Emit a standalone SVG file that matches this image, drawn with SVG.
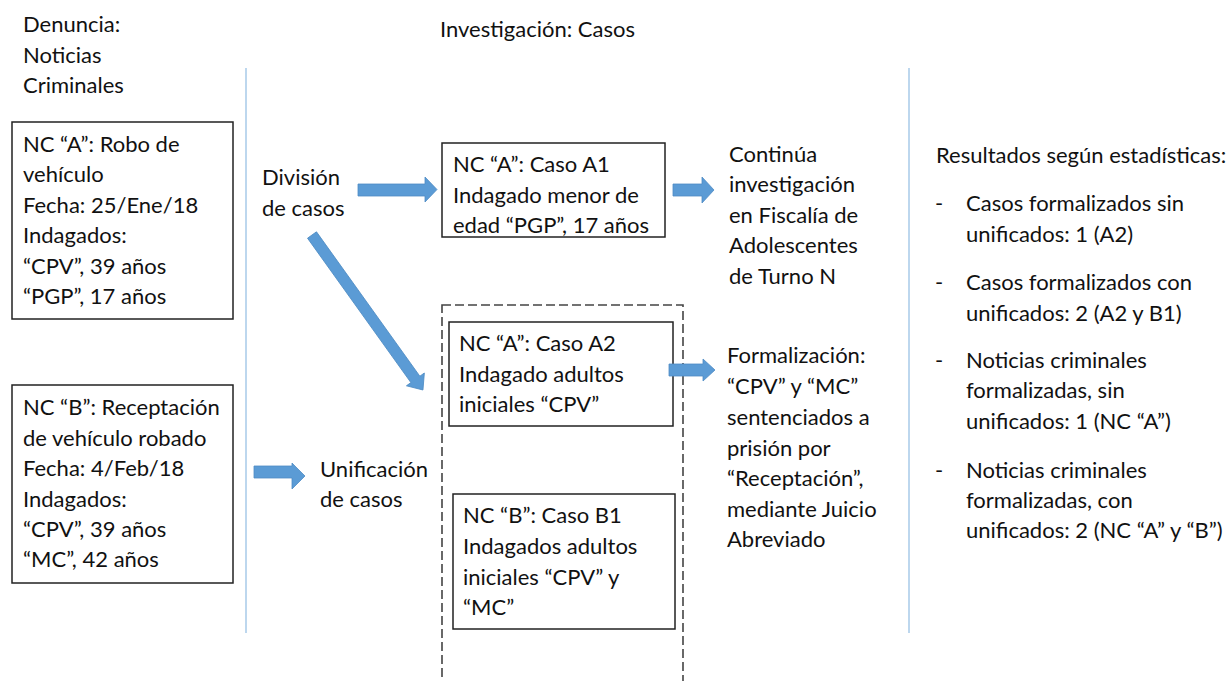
<svg xmlns="http://www.w3.org/2000/svg" width="1232" height="681" viewBox="0 0 1232 681">
<style>
text{font-family:"Lato","Liberation Sans",sans-serif;font-size:22px;fill:#111}
.box{fill:#fff;stroke:#222;stroke-width:1.5}
.dash{fill:none;stroke:#444;stroke-width:1.6;stroke-dasharray:9 4}
.sep{stroke:#bdd7ee;stroke-width:2}
.arrow{fill:#5b9bd5;stroke:#4f8cc4;stroke-width:0.8}
</style>
<rect width="1232" height="681" fill="#fff"/>
<g id="separators">
<line class="sep" x1="246" y1="68" x2="246" y2="633"/>
<line class="sep" x1="909" y1="68" x2="909" y2="633"/>
</g>
<g id="header-denuncia">
<text x="23" y="32">Denuncia:</text>
<text x="23" y="63">Noticias</text>
<text x="23" y="93">Criminales</text>
</g>
<g id="header-investigacion">
<text x="440" y="37">Investigación: Casos</text>
</g>
<g id="nc-a">
<rect class="box" x="12" y="122" width="221" height="197"/>
<text x="23" y="152">NC “A”: Robo de</text>
<text x="23" y="182">vehículo</text>
<text x="23" y="213">Fecha: 25/Ene/18</text>
<text x="23" y="243">Indagados:</text>
<text x="23" y="274">“CPV”, 39 años</text>
<text x="23" y="304">“PGP”, 17 años</text>
</g>
<g id="nc-b">
<rect class="box" x="12" y="385" width="221" height="198"/>
<text x="23" y="415">NC “B”: Receptación</text>
<text x="23" y="446">de vehículo robado</text>
<text x="23" y="476">Fecha: 4/Feb/18</text>
<text x="23" y="507">Indagados:</text>
<text x="23" y="537">“CPV”, 39 años</text>
<text x="23" y="567">“MC”, 42 años</text>
</g>
<g id="division">
<text x="262" y="185">División</text>
<text x="262" y="216">de casos</text>
</g>
<g id="unificacion">
<text x="320" y="477">Unificación</text>
<text x="320" y="507">de casos</text>
</g>
<g id="caso-a1">
<rect class="box" x="442" y="143" width="223" height="94"/>
<text x="453" y="172">NC “A”: Caso A1</text>
<text x="453" y="203">Indagado menor de</text>
<text x="453" y="233">edad “PGP”, 17 años</text>
</g>
<g id="unificados">
<rect class="dash" x="442" y="305" width="241" height="400"/>
</g>
<g id="caso-a2">
<rect class="box" x="449" y="322" width="224" height="104"/>
<text x="459" y="351">NC “A”: Caso A2</text>
<text x="459" y="382">Indagado adultos</text>
<text x="459" y="412">iniciales “CPV”</text>
</g>
<g id="caso-b1">
<rect class="box" x="453" y="494" width="222" height="135"/>
<text x="463" y="523">NC “B”: Caso B1</text>
<text x="463" y="554">Indagados adultos</text>
<text x="463" y="585">iniciales “CPV” y</text>
<text x="463" y="615">“MC”</text>
</g>
<g id="continua">
<text x="729" y="162">Continúa</text>
<text x="729" y="192">investigación</text>
<text x="729" y="223">en Fiscalía de</text>
<text x="729" y="253">Adolescentes</text>
<text x="729" y="284">de Turno N</text>
</g>
<g id="formalizacion">
<text x="727" y="363">Formalización:</text>
<text x="727" y="394">“CPV” y “MC”</text>
<text x="727" y="425">sentenciados a</text>
<text x="727" y="456">prisión por</text>
<text x="727" y="486">“Receptación”,</text>
<text x="727" y="517">mediante Juicio</text>
<text x="727" y="547">Abreviado</text>
</g>
<g id="resultados">
<text x="936" y="163">Resultados según estadísticas:</text>
<text x="935" y="211">-</text>
<text x="966" y="211">Casos formalizados sin</text>
<text x="966" y="242">unificados: 1 (A2)</text>
<text x="935" y="290">-</text>
<text x="966" y="290">Casos formalizados con</text>
<text x="966" y="321">unificados: 2 (A2 y B1)</text>
<text x="935" y="368">-</text>
<text x="966" y="368">Noticias criminales</text>
<text x="966" y="398">formalizadas, sin</text>
<text x="966" y="429">unificados: 1 (NC “A”)</text>
<text x="935" y="478">-</text>
<text x="966" y="478">Noticias criminales</text>
<text x="966" y="508">formalizadas, con</text>
<text x="966" y="538">unificados: 2 (NC “A” y “B”)</text>
</g>
<g id="connectors">
<polygon class="arrow" points="358,184 425,184 425,177 437,189.5 425,202 425,196 358,196"/>
<polygon class="arrow" points="673,184 702,184 702,177 714,190 702,203 702,196 673,196"/>
<polygon class="arrow" points="669,364 703,364 703,359 715,370 703,381 703,376 669,376"/>
<polygon class="arrow" points="254,466 292,466 292,463 305,476 292,489 292,478 254,478"/>
<polygon class="arrow" transform="translate(312,235) rotate(54.4)" points="0,-5.5 177.6,-5.5 177.6,-11 190.6,0 177.6,11 177.6,5.5 0,5.5"/>
</g>
</svg>
